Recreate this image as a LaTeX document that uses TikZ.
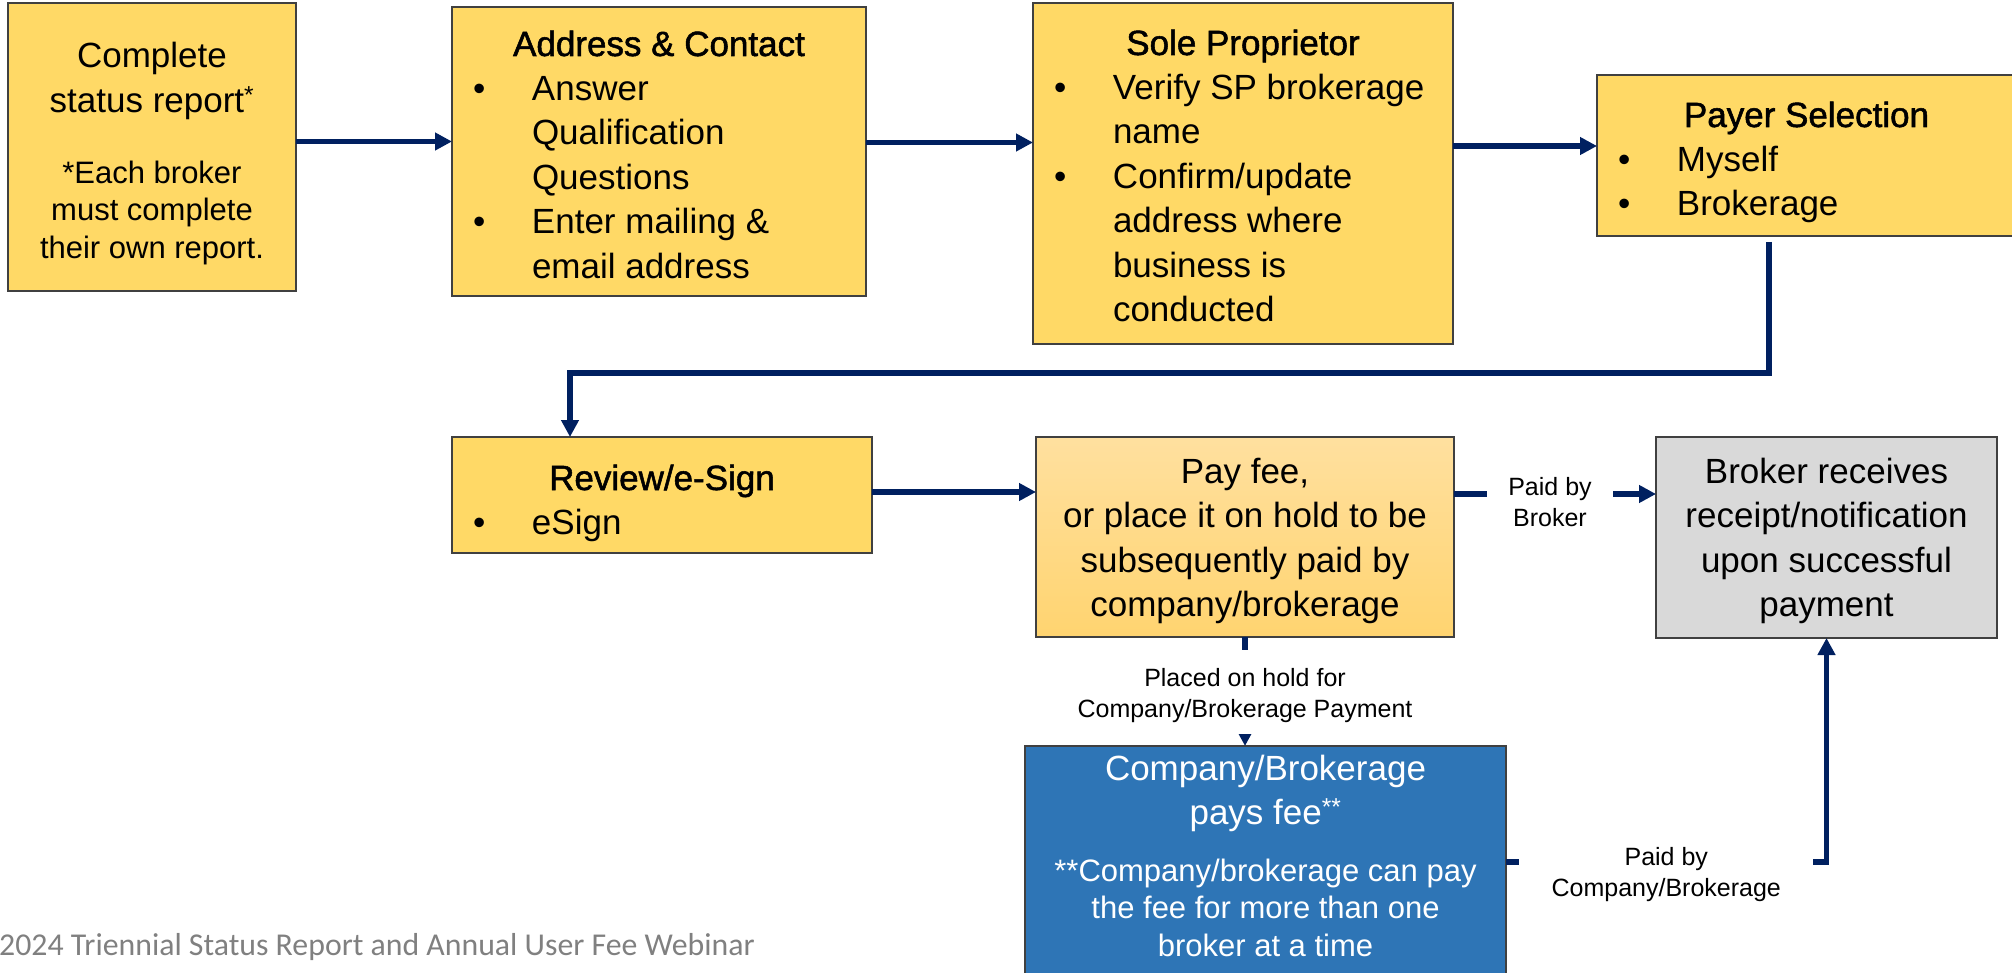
\documentclass[tikz,border=0pt]{standalone}
\usepackage{fontspec}
\setmainfont{Liberation Sans}
\newfontfamily\titlef[FakeBold=1.5]{Liberation Sans}
\newfontfamily\footf{Carlito}
\usetikzlibrary{arrows.meta}
\definecolor{navy}{HTML}{002060}
\definecolor{boxy}{HTML}{FFD966}
\definecolor{payTop}{HTML}{FFE09F}
\definecolor{payBot}{HTML}{FFD470}
\definecolor{brokgray}{HTML}{D9D9D9}
\definecolor{compblue}{HTML}{2E75B6}
\definecolor{edgegray}{HTML}{404040}
\definecolor{footgray}{HTML}{808080}
\newcommand\bigf{\fontsize{35}{44.5}\selectfont}
\newcommand\smallf{\fontsize{31}{37.5}\selectfont}
\newcommand\labf{\fontsize{25}{31.5}\selectfont}
\newcommand\fb[1]{\rule{0pt}{#1}}
\newcommand\bul{\leavevmode\llap{\makebox[59pt][l]{\textbullet}}}
\tikzset{
  box/.style={draw=edgegray, line width=1.5pt, inner sep=0pt, outer sep=0pt},
  ybox/.style={box, fill=boxy},
  arr/.style={draw=navy, line width=5.5pt, line join=miter, -{Triangle[length=17pt,width=17pt]}},
  lab/.style={fill=white, inner sep=0pt, text=black},
}
\begin{document}
\begin{tikzpicture}[x=1pt,y=-1pt]
\useasboundingbox (0,0) rectangle (2012,973);

\node[ybox] (b1) at (152,147) {\parbox[c][288pt][t]{288pt}{\bigf\centering\fb{65pt}Complete\\status report\textsuperscript{*}\par\vspace{33.5pt}\smallf *Each broker\\must complete\\their own report.\par}};

\node[ybox] (b2) at (659,151.5) {\parbox[c][289pt][t]{414pt}{\bigf\centering\fb{49pt}{\titlef Address \& Contact}\par\raggedright\leftskip=80pt\relax
\bul Answer\\Qualification\\Questions\par
\bul Enter mailing \&\\email address\par}};

\node[ybox] (b3) at (1243,173.5) {\parbox[c][341pt][t]{420pt}{\bigf\centering\fb{52pt}{\titlef Sole Proprietor}\par\raggedright\leftskip=80pt\relax
\bul Verify SP brokerage\\name\par
\bul Confirm/update\\address where\\business is\\conducted\par}};

\node[ybox] (b4) at (1806.5,155.5) {\parbox[c][161pt][t]{419pt}{\bigf\centering\fb{52pt}{\titlef Payer Selection}\par\raggedright\leftskip=80pt\relax
\bul Myself\par
\bul Brokerage\par}};

\node[ybox] (b5) at (662,495) {\parbox[c][116pt][t]{420pt}{\bigf\centering\fb{53pt}{\titlef Review/e-Sign}\par\raggedright\leftskip=80pt\relax
\bul eSign\par}};

\node[box, top color=payTop, bottom color=payBot] (b6) at (1245,537) {\parbox[c][200pt][t]{418pt}{\bigf\centering\fb{46pt}Pay fee,\\or place it on hold to be\\subsequently paid by\\company/brokerage\par}};

\node[box, fill=brokgray] (b7) at (1826.5,537.5) {\parbox[c][201pt][t]{341pt}{\bigf\centering\fb{46pt}Broker receives\\receipt/notification\\upon successful\\payment\par}};

\node[box, fill=compblue, text=white] (b8) at (1265.5,868) {\parbox[c][244pt][t]{481pt}{\bigf\centering\fb{34pt}Company/Brokerage\\pays fee\textsuperscript{**}\par\vspace{19pt}\smallf **Company/brokerage can pay\\the fee for more than one\\broker at a time\par}};

\draw[arr] ([yshift=5.5pt]b1.east) -- ([yshift=5.5pt]b1.east -| b2.west);
\draw[arr] ([yshift=9pt]b2.east) -- ([yshift=9pt]b2.east -| b3.west);
\draw[arr] ([yshift=27.5pt]b3.east) -- ([yshift=27.5pt]b3.east -| b4.west);
\draw[arr] ([xshift=-37.5pt,yshift=-6pt]b4.south) |- ([xshift=-92pt,yshift=64pt]b5.north) -- ([xshift=-92pt]b5.north);
\draw[arr] ([yshift=3pt]b5.east) -- ([yshift=3pt]b5.east -| b6.west);
\draw[arr] ([yshift=43pt]b6.east) -- ([yshift=43pt]b6.east -| b7.west)
  node[lab, pos=0.4752, yshift=-11pt] (l1) {\parbox[c][70pt][t]{126pt}{\labf\centering\fb{25pt}Paid by\\Broker\par}};
\draw[arr] (b6.south) -- (b6.south |- b8.north)
  node[lab, pos=0.5] (l2) {\parbox[c][84pt][t]{360pt}{\labf\centering\fb{36.5pt}Placed on hold for\\Company/Brokerage Payment\par}};
\draw[arr] ([yshift=6pt]b8.east) -| (b7.south)
  node[lab, pos=0.25, yshift=-12pt] (l3) {\parbox[c][72pt][t]{294pt}{\labf\centering\fb{27pt}Paid by\\Company/Brokerage\par}};

\node[anchor=base west, inner sep=0pt, text=footgray, font=\footf\fontsize{31.8}{31.8}\selectfont] (foot) at (-1,955) {2024 Triennial Status Report and Annual User Fee Webinar};
\end{tikzpicture}
\end{document}
